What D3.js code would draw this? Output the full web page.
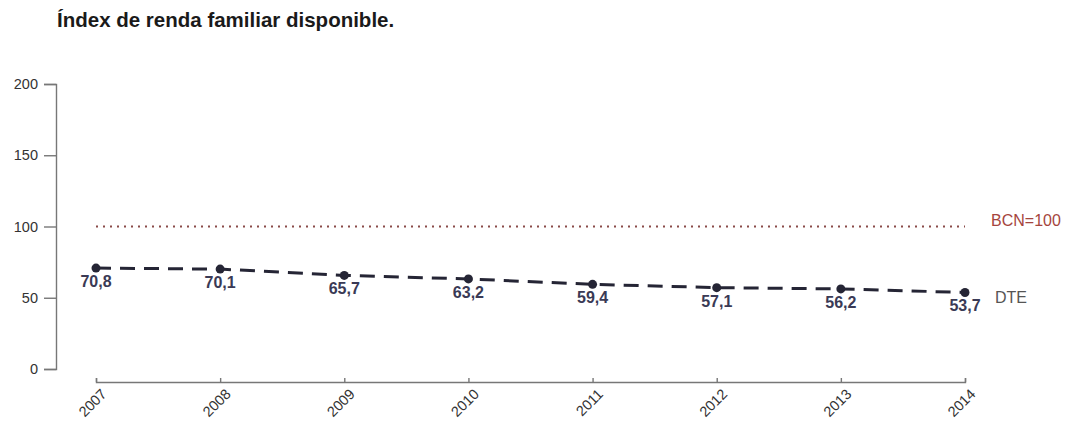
<!DOCTYPE html>
<html>
<head>
<meta charset="utf-8">
<script src="https://cdn.jsdelivr.net/npm/d3@7"></script>
<style>
  body { margin: 0; background: #fff; }
  svg { font-family: "Liberation Sans", Arial, sans-serif; }
</style>
</head>
<body>
<svg id="chart" width="1068" height="421"></svg>
<script>
const years = [2007, 2008, 2009, 2010, 2011, 2012, 2013, 2014];
const dteValues = [70.8, 70.1, 65.7, 63.2, 59.4, 57.1, 56.2, 53.7];
const bcnValue = 100;
const yTicks = [0, 50, 100, 150, 200];

const svg = d3.select('svg#chart');

svg.append('text')
  .attr('x', 57)
  .attr('y', 27)
  .attr('font-size', 20.5)
  .attr('font-weight', 'bold')
  .attr('fill', '#1a1a1a')
  .text('Índex de renda familiar disponible.');

const x = d3.scalePoint()
  .domain(years)
  .range([96, 965]);

const y = d3.scaleLinear()
  .domain([0, 200])
  .range([369, 84]);

// y axis
const yAxis = svg.append('g')
  .attr('transform', 'translate(56,0)')
  .call(d3.axisLeft(y).tickValues(yTicks).tickSize(12).tickPadding(6));
yAxis.select('.domain').attr('stroke', '#777').attr('stroke-width', 1.4);
yAxis.selectAll('.tick line').attr('stroke', '#777').attr('stroke-width', 1.4);
yAxis.selectAll('.tick text')
  .attr('font-size', 14.5)
  .attr('fill', '#333')
  .style('font-family', '"Liberation Sans", Arial, sans-serif');

// x axis
const xAxis = svg.append('g')
  .attr('transform', 'translate(0,382)')
  .call(d3.axisBottom(x).tickSize(-4).tickSizeOuter(-4));
xAxis.select('.domain').attr('stroke', '#777').attr('stroke-width', 1.4);
xAxis.selectAll('.tick line').attr('stroke', '#777').attr('stroke-width', 1.4);
xAxis.selectAll('.tick text')
  .attr('font-size', 14.5)
  .attr('fill', '#333')
  .attr('text-anchor', 'end')
  .attr('y', 0)
  .attr('dy', 0)
  .attr('transform', 'translate(11,13) rotate(-45)')
  .style('font-family', '"Liberation Sans", Arial, sans-serif');

// reference line BCN=100
svg.append('line')
  .attr('x1', x(years[0]))
  .attr('x2', x(years[years.length - 1]))
  .attr('y1', y(bcnValue))
  .attr('y2', y(bcnValue))
  .attr('stroke', '#8a4a48')
  .attr('stroke-width', 2)
  .attr('stroke-dasharray', '2,5');

svg.append('text')
  .attr('x', 991)
  .attr('y', y(bcnValue) - 1)
  .attr('font-size', 16)
  .attr('fill', '#a5453d')
  .text('BCN=100');

// DTE line
const line = d3.line()
  .x((d, i) => x(years[i]))
  .y(d => y(d));

svg.append('path')
  .datum(dteValues)
  .attr('d', line)
  .attr('fill', 'none')
  .attr('stroke', '#252535')
  .attr('stroke-width', 3)
  .attr('stroke-dasharray', '15,9');

svg.selectAll('circle.pt')
  .data(dteValues)
  .enter()
  .append('circle')
  .attr('class', 'pt')
  .attr('cx', (d, i) => x(years[i]))
  .attr('cy', d => y(d))
  .attr('r', 4.5)
  .attr('fill', '#252535');

svg.selectAll('text.val')
  .data(dteValues)
  .enter()
  .append('text')
  .attr('class', 'val')
  .attr('x', (d, i) => x(years[i]))
  .attr('y', d => y(d) + 19)
  .attr('text-anchor', 'middle')
  .attr('font-size', 16)
  .attr('font-weight', 'bold')
  .attr('fill', '#3a3a55')
  .text(d => d.toFixed(1).replace('.', ','));

svg.append('text')
  .attr('x', 995)
  .attr('y', y(dteValues[dteValues.length - 1]) + 11)
  .attr('font-size', 16)
  .attr('fill', '#555')
  .text('DTE');
</script>
</body>
</html>
